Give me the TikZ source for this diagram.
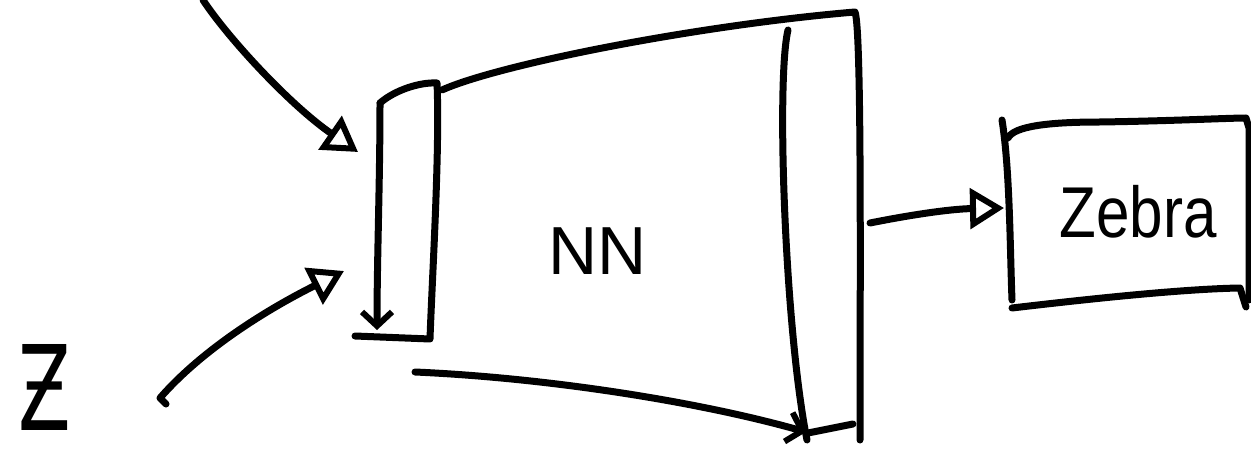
\documentclass[tikz,border=0pt]{standalone}
\usepackage{fontspec}
\setmainfont{Liberation Sans}
\newfontfamily\zfont{DejaVu Sans}
\usetikzlibrary{arrows.meta}
\begin{document}
\begin{tikzpicture}[x=1pt,y=-1pt,
  ink/.style={line width=7pt, line cap=round, line join=round},
  opentip/.style={-{Triangle[open,length=34pt,width=40pt,line width=6pt]}},
  barbtip/.style={-{Straight Barb[length=14pt,width=30pt,line width=6pt]}},
  lbl/.style={inner sep=0pt, anchor=base}
]
\useasboundingbox (0,0) rectangle (1251,449);

% labels
\node[lbl] (z) at (45,430) {\zfont\fontsize{118}{118}\selectfont\scalebox{0.65}[1]{Ƶ}};
\node[lbl] (nn) at (598,275) {\fontsize{68}{68}\selectfont NN};
\node[lbl] (zebra) at (1138,238) {\fontsize{72}{72}\selectfont\scalebox{0.835}[1]{Zebra}};

% named points
\coordinate (topin) at (203,0);
\coordinate (topend) at (358,152);
\coordinate (zhook) at (166,404);
\coordinate (zstart) at (160,398);
\coordinate (zend) at (344,271);
% input block
\coordinate (ibTL) at (380,103);
\coordinate (ibBL) at (377,330);
\coordinate (ibTR) at (437,83);
\coordinate (ibBR) at (430,339);
\coordinate (ibBLL) at (355,336);
% network body
\coordinate (nnTL) at (442,90);
\coordinate (nnTR) at (855,12);
\coordinate (nnBR) at (860,440);
\coordinate (inTop) at (788,30);
\coordinate (inBot) at (807,440);
\coordinate (botL) at (415,372);
\coordinate (botR) at (806,432);
\coordinate (botRR) at (853,424);
% output arrow
\coordinate (outS) at (870,223);
\coordinate (outE) at (1004,208);
% zebra box
\coordinate (zbTL) at (1002,120);
\coordinate (zbBL) at (1012,300);
\coordinate (zbT0) at (1008,138);
\coordinate (zbTR) at (1246,118);
\coordinate (zbBR) at (1249,300);
\coordinate (zbB0) at (1012,308);
\coordinate (zbB1) at (1240,288);
\coordinate (zbB2) at (1246,307);

% arrows into the input block
\draw[ink,opentip] (topin) .. controls (228,38) and (290,105) .. (topend);
\draw[ink,opentip] (zhook) -- (zstart) .. controls (200,352) and (262,312) .. (zend);

% input block
\draw[ink,barbtip] (ibTL) .. controls (380,180) and (377,260) .. (ibBL);
\draw[ink] (ibTL) .. controls (395,90) and (420,82) .. (ibTR)
  .. controls (440,150) and (432,280) .. (ibBR) -- (ibBLL);

% network body
\draw[ink] (nnTL) .. controls (500,64) and (700,25) .. (nnTR)
  .. controls (862,30) and (860,300) .. (nnBR);
\draw[ink] (inTop) .. controls (776,80) and (785,330) .. (inBot);
\draw[ink,barbtip] (botL) .. controls (550,378) and (700,402) .. (botR);
\draw[ink] (808,433) -- (botRR);

% output arrow
\draw[ink,opentip] (outS) .. controls (910,215) and (950,209) .. (outE);

% zebra box
\draw[ink] (zbTL) .. controls (1010,170) and (1010,250) .. (zbBL);
\draw[ink] (zbT0) .. controls (1014,126) and (1050,122) .. (1100,122)
  .. controls (1170,121) and (1230,118) .. (zbTR) -- (1249,128) -- (zbBR);
\draw[ink] (zbB0) .. controls (1080,300) and (1180,289) .. (zbB1) -- (zbB2);
\end{tikzpicture}
\end{document}
